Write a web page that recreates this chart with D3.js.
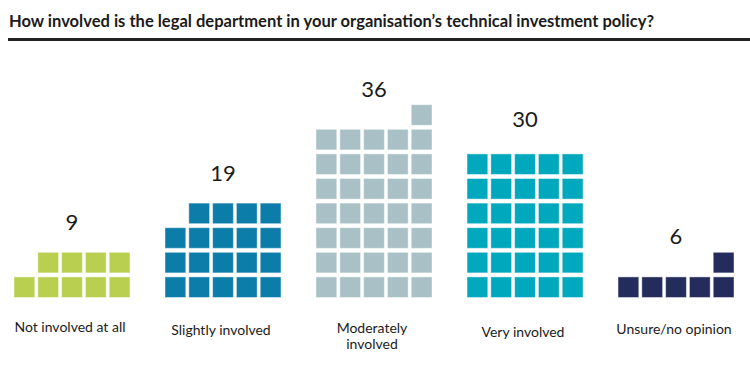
<!DOCTYPE html>
<html>
<head>
<meta charset="utf-8">
<script src="https://cdn.jsdelivr.net/npm/d3@7"></script>
<style>
  html, body { margin: 0; padding: 0; background: #fff; }
  svg { display: block; }
  text { font-family: Lato, "Open Sans", sans-serif; fill: #1b1b1b; }
</style>
</head>
<body>
<svg id="chart" width="750" height="380"></svg>
<script>
// ---- data ----
const title = "How involved is the legal department in your organisation\u2019s technical investment policy?";
const categories = ["Not involved at all", "Slightly involved", "Moderately\ninvolved", "Very involved", "Unsure/no opinion"];
const values = [9, 19, 36, 30, 6];
const colors = ["#b9cf50", "#0c7ca8", "#a9c0c6", "#00a8bd", "#232c5a"];

// ---- layout ----
const W = 750, H = 380;
const perRow = 5;
const svg = d3.select("#chart");

// title + rule
const t = svg.append("text")
  .attr("x", 9).attr("y", 27)
  .style("font-size", "17px").style("font-weight", 700)
  .text(title);
const tw = t.node().getComputedTextLength();
const targetTitleW = 645;
if (Math.abs(tw - targetTitleW) > 2) t.attr("textLength", targetTitleW).attr("lengthAdjust", "spacingAndGlyphs");

svg.append("line")
  .attr("x1", 8).attr("x2", W).attr("y1", 39.5).attr("y2", 39.5)
  .attr("stroke", "#222").attr("stroke-width", 3);

// scales
const x = d3.scaleBand()
  .domain(categories)
  .range([14, 734])
  .paddingInner(0.232)
  .paddingOuter(0);

const col = d3.scaleBand()
  .domain(d3.range(perRow))
  .range([0, x.bandwidth()])
  .paddingInner(0.127)
  .paddingOuter(0);

const rowPitch = 24.6;
const sq = 20.6;
const maxRows = Math.ceil(d3.max(values) / perRow);
const y = d3.scaleLinear().domain([0, maxRows]).range([297.5, 297.5 - maxRows * rowPitch]);

// value label scale
const labelY = d3.scaleLinear().domain([0, 36]).range([273.6, 97.2]);

// cells: bottom-up, top partial row right-aligned
function cells(v) {
  const out = [];
  const full = Math.floor(v / perRow);
  const rem = v % perRow;
  for (let k = 0; k < v; k++) {
    const r = Math.floor(k / perRow);
    let c = k % perRow;
    if (r === full) c = c + (perRow - rem);
    out.push({ r, c });
  }
  return out;
}

const groups = svg.selectAll("g.grp")
  .data(categories.map((c, i) => ({ cat: c, v: values[i], color: colors[i] })))
  .join("g")
  .attr("class", "grp")
  .attr("transform", d => `translate(${x(d.cat)},0)`);

groups.selectAll("rect")
  .data(d => cells(d.v).map(e => ({ ...e, color: d.color })))
  .join("rect")
  .attr("x", d => col(d.c))
  .attr("y", d => y(d.r) - sq)
  .attr("width", col.bandwidth())
  .attr("height", sq)
  .attr("fill", d => d.color)
  .attr("stroke", "rgba(255,255,255,0.45)")
  .attr("stroke-width", 1);

// value labels
groups.append("text")
  .attr("x", x.bandwidth() / 2)
  .attr("y", d => labelY(d.v))
  .attr("text-anchor", "middle")
  .style("font-size", "22px")
  .text(d => d.v);

// category labels
const labelNudge = [0, 3, 1, 5, 2];
groups.each(function (d, i) {
  const lines = d.cat.split("\n");
  const txt = d3.select(this).append("text")
    .attr("text-anchor", "middle")
    .style("font-size", "14px");
  lines.forEach((ln, j) => {
    txt.append("tspan")
      .attr("x", x.bandwidth() / 2 - 2)
      .attr("y", 332 + labelNudge[i] + j * 15.5)
      .text(ln);
  });
});
</script>
</body>
</html>
